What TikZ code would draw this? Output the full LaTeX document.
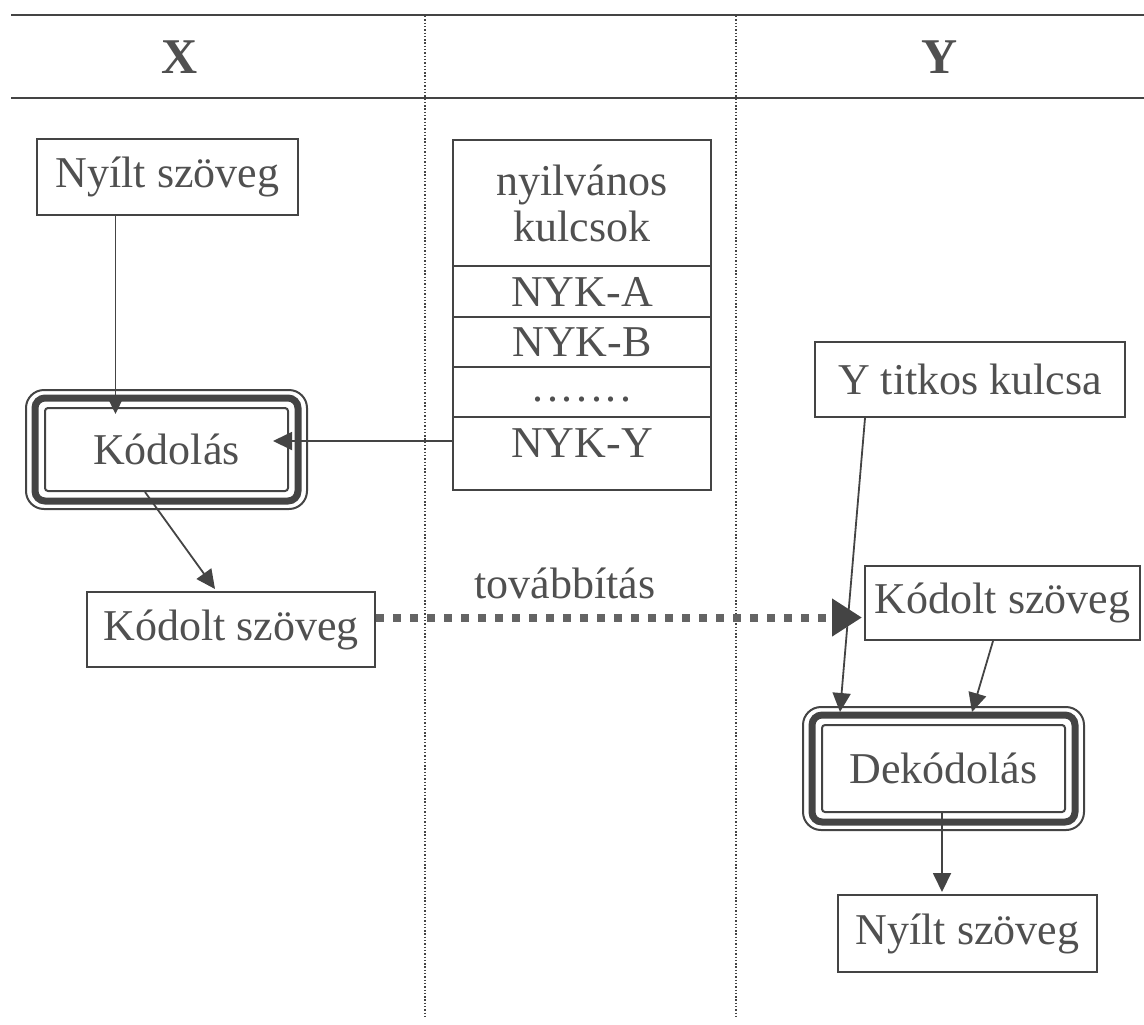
\documentclass[tikz,border=0pt]{standalone}
\usepackage{fontspec}
\setmainfont{Liberation Serif}
\usetikzlibrary{arrows.meta}
\definecolor{ink}{RGB}{68,68,68}
\definecolor{txt}{RGB}{80,80,80}
\definecolor{dashc}{RGB}{100,100,100}
\newcommand\TriFrame[1]{%
  \draw[thickframe] ([shift={(-4.5pt,-4.5pt)}]#1.south west) rectangle ([shift={(4.5pt,4.5pt)}]#1.north east);
  \draw[outerframe] ([shift={(-9pt,-8.5pt)}]#1.south west) rectangle ([shift={(9pt,8.5pt)}]#1.north east);}
\newcommand\dsep{\hspace{1.8pt}}
\begin{document}
\begin{tikzpicture}[x=0.5pt,y=-0.5pt,
  font=\fontsize{22}{23}\selectfont, text=txt,
  box/.style={draw=ink,line width=1pt,inner sep=0pt,align=center},
  arr/.style={draw=ink,line width=0.9pt,-{Triangle[length=9.5pt,width=9pt]}},
  rulel/.style={draw=ink,line width=1.3pt},
  sepline/.style={draw=ink,line width=1pt,dash pattern=on 0.7pt off 0.95pt},
  thickframe/.style={draw=ink,line width=3.5pt,rounded corners=5pt},
  outerframe/.style={draw=ink,line width=1pt,rounded corners=9pt},
  hdr/.style={font=\fontsize{25}{26}\selectfont\bfseries},
  send/.style={draw=dashc,line width=4pt,dash pattern=on 4pt off 4.5pt,
    -{Triangle[length=15pt,width=18pt,color=ink]}}
]
\path[use as bounding box] (0,0) rectangle (1144,1024);

% header rules and lane separators
\coordinate (r1a) at (11,15);  \coordinate (r1b) at (1144,15);
\coordinate (r2a) at (11,98);  \coordinate (r2b) at (1144,98);
\draw[rulel] (r1a) -- (r1b);
\draw[rulel] (r2a) -- (r2b);
\coordinate (s1a) at (425,16); \coordinate (s1b) at (425,1016);
\coordinate (s2a) at (736,16); \coordinate (s2b) at (736,1016);
\draw[sepline] (s1a) -- (s1b);
\draw[sepline] (s2a) -- (s2b);

\node[hdr] (hx) at (180,57) {X};
\node[hdr] (hy) at (940,57) {Y};

% left lane
\node[box,minimum width=130.5pt,minimum height=38pt] (nyilt1) at (167.5,177) {Nyílt szöveg};
\node[box,rounded corners=1.5pt,minimum width=121.5pt,minimum height=41.5pt] (kod) at (166.5,449.5) {Kódolás};
\TriFrame{kod}
\node[box,minimum width=144pt,minimum height=37.5pt] (kodolt1) at (231,629.5) {Kódolt szöveg};

% public key table
\node[box,minimum width=129pt,minimum height=63pt] (hdrc) at (582,203) {nyilvános\\kulcsok};
\node[box,minimum width=129pt,minimum height=25.5pt] (nyka) at (582,291.5) {NYK-A};
\node[box,minimum width=129pt,minimum height=25pt] (nykb) at (582,342) {NYK-B};
\node[box,minimum width=129pt,minimum height=25pt] (nykd) at (582,392) {\strut.\dsep.\dsep.\dsep.\dsep.\dsep.\dsep.};
\node[box,minimum width=129pt,minimum height=36.5pt,text depth=10pt] (nyky) at (582,453.5) {NYK-Y};

\node (tov) at (565,583) {továbbítás};

% right lane
\node[box,minimum width=155pt,minimum height=37.5pt] (ytit) at (970,379.5) {Y titkos kulcsa};
\node[box,minimum width=137.5pt,minimum height=37pt] (kodolt2) at (1002.5,603) {Kódolt szöveg};
\node[box,rounded corners=1.5pt,minimum width=121.5pt,minimum height=43.5pt] (dek) at (943.5,768.5) {Dekódolás};
\TriFrame{dek}
\node[box,minimum width=129.5pt,minimum height=38.5pt] (nyilt2) at (967.5,933.5) {Nyílt szöveg};

% connectors
\draw[arr] ([xshift=-26pt]nyilt1.south) -- ([xshift=-25.5pt,yshift=-3.5pt]kod.north);
\draw[arr] ([yshift=6.25pt]nyky.west) -- ([xshift=-8pt,yshift=4.25pt]kod.east);
\draw[arr] ([xshift=-10.75pt]kod.south) -- ([xshift=-8pt,yshift=1pt]kodolt1.north);
\draw[send] ([yshift=6pt]kodolt1.east) -- ([xshift=-1pt,yshift=-7.25pt]kodolt2.west);
\draw[arr] ([xshift=-52.5pt]ytit.south) -- ([xshift=-51.75pt,yshift=6pt]dek.north);
\draw[arr] ([xshift=-4.75pt]kodolt2.south) -- ([xshift=14.25pt,yshift=6pt]dek.north);
\draw[arr] ([xshift=-0.75pt]dek.south) -- ([xshift=-12.75pt,yshift=1pt]nyilt2.north);
\end{tikzpicture}
\end{document}
